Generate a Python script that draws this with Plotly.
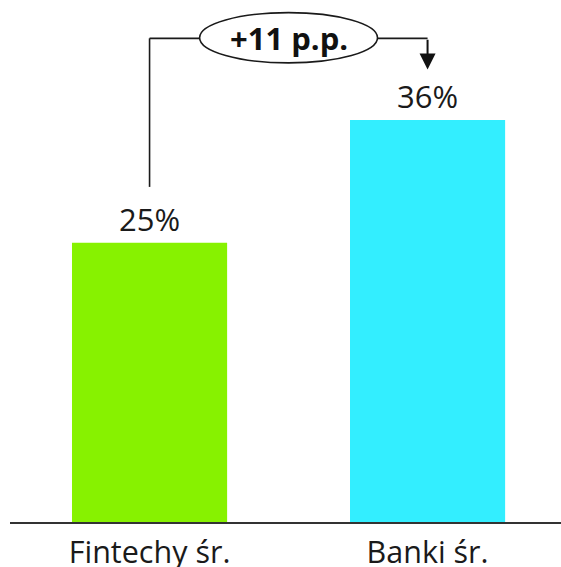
import plotly.graph_objects as go

categories = ["Fintechy śr.", "Banki śr."]
values = [25, 36]
value_labels = ["25%", "36%"]
bar_colors = ["#87F200", "#33EEFF"]
diff_label = "+11 p.p."

FONT = "Open Sans"
px_per_unit = 11.17
plot_h = 522
y_max = plot_h / px_per_unit

fig = go.Figure()
fig.add_trace(go.Bar(
    x=[0, 1], y=values,
    marker=dict(color=bar_colors, line=dict(width=0)),
    width=0.558,
    text=value_labels, textposition="outside",
    textfont=dict(family=FONT, size=31, color="#1a1a1a"),
    cliponaxis=False,
))

line_style = dict(color="#1a1a1a", width=1.6)
y_top = 43.3
start1 = values[0] + 5
tip2 = values[1] + 4.5
ell_x0, ell_x1 = 0.18, 0.82
ell_y0, ell_y1 = 41.1, 45.6

fig.add_shape(type="line", x0=0, x1=0, y0=start1, y1=y_top, line=line_style, xref="x", yref="y")
fig.add_shape(type="line", x0=0, x1=ell_x0, y0=y_top, y1=y_top, line=line_style, xref="x", yref="y")
fig.add_shape(type="line", x0=ell_x1, x1=1, y0=y_top, y1=y_top, line=line_style, xref="x", yref="y")
fig.add_shape(type="circle", x0=ell_x0, x1=ell_x1, y0=ell_y0, y1=ell_y1,
              line=line_style, fillcolor="white", xref="x", yref="y")

fig.add_annotation(x=0.5, y=(ell_y0 + ell_y1) / 2, text="<b>" + diff_label + "</b>",
                   showarrow=False, font=dict(family=FONT, size=31, color="#111"),
                   xref="x", yref="y")
fig.add_annotation(x=1, y=tip2, ax=1, ay=y_top, xref="x", yref="y", axref="x", ayref="y",
                   text="", showarrow=True, arrowhead=2, arrowsize=1.6, arrowwidth=2,
                   arrowcolor="#111")

fig.update_layout(
    width=561, height=567,
    margin=dict(l=10, r=0, t=0, b=45, autoexpand=False),
    plot_bgcolor="white", paper_bgcolor="white",
    showlegend=False,
    font=dict(family=FONT, color="#1a1a1a"),
    xaxis=dict(range=[-0.502, 1.48], tickvals=[0, 1], ticktext=categories,
               showline=True, linecolor="#333", linewidth=1.5, ticks="",
               ticklabelstandoff=3, automargin=False,
               showgrid=False, zeroline=False,
               tickfont=dict(family=FONT, size=30.5, color="#1a1a1a")),
    yaxis=dict(range=[0, y_max], visible=False, showgrid=False, zeroline=False,
               automargin=False),
)

fig.write_html("out.html")
